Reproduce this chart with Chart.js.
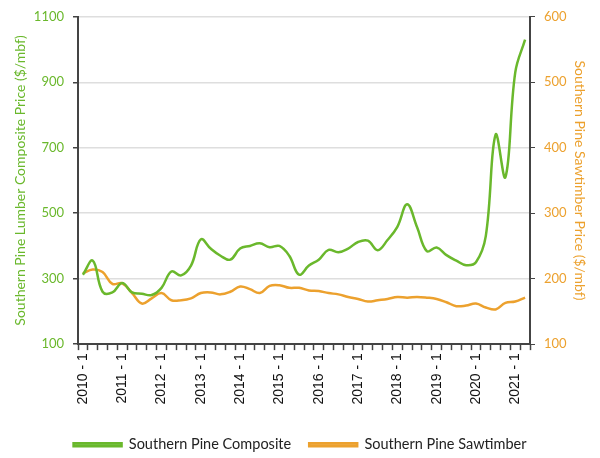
<!DOCTYPE html>
<html>
<head>
<meta charset="utf-8">
<script src="https://cdn.jsdelivr.net/npm/chart.js@4"></script>
<style>
  html, body { margin: 0; padding: 0; background: #fff; }
  #wrap { width: 600px; height: 458px; }
</style>
</head>
<body>
<div id="wrap"><canvas id="lumberChart"></canvas></div>
<script>
// quarterly, 2010-1 .. 2021-2
const years = ['2010', '2011', '2012', '2013', '2014', '2015', '2016', '2017', '2018', '2019', '2020', '2021'];
const quarters = [];
years.forEach(y => { for (let q = 1; q <= 4; q++) quarters.push(y + ' - ' + q); });
quarters.length = 46;

const compositePrice = [
  312, 355, 260, 258, 287, 258, 254, 250, 272, 322, 310, 340,
  420, 392, 370, 358, 392, 400, 408, 396, 400, 370, 312, 340,
  358, 388, 381, 392, 412, 416, 387, 418, 458, 527, 458, 384,
  395, 372, 355, 341, 350, 430, 740, 610, 930, 1030
];
const sawtimberPrice = [
  208, 214, 210, 192, 193, 178, 162, 170, 178, 167, 167, 170,
  178, 179, 176, 180, 188, 184, 178, 189, 190, 186, 186, 182,
  181, 178, 176, 172, 169, 165, 167, 169, 172, 171, 172, 171,
  169, 164, 158, 159, 162, 156, 153, 163, 165, 171
];

const green = '#6ab82c';
const orange = '#eca12e';
const axisColor = '#444';

const lumberCtx = document.getElementById('lumberChart').getContext('2d');
const lumberChart = new Chart(lumberCtx, {
    type: 'line',
    data: {
        labels: quarters,
        datasets: [{
            label: 'Southern Pine Composite',
            data: compositePrice,
            borderColor: green,
            backgroundColor: '#7cc64e',
            borderWidth: 2.5,
            pointRadius: 0,
            tension: 0.4,
            yAxisID: 'y'
        }, {
            label: 'Southern Pine Sawtimber',
            data: sawtimberPrice,
            borderColor: orange,
            backgroundColor: '#f0ad4a',
            borderWidth: 2.5,
            pointRadius: 0,
            tension: 0.4,
            yAxisID: 'y1'
        }]
    },
    options: {
        responsive: true,
        maintainAspectRatio: false,
        animation: false,
        layout: { padding: { top: 8, right: 4, left: 4, bottom: -4 } },
        plugins: {
            tooltip: { enabled: false },
            legend: {
                position: 'bottom',
                labels: {
                    boxWidth: 48,
                    boxHeight: 3,
                    padding: 18,
                    color: '#222',
                    font: { family: 'Lato', size: 14.5 }
                }
            }
        },
        scales: {
            x: {
                offset: true,
                ticks: {
                    autoSkip: false,
                    maxRotation: 90,
                    minRotation: 90,
                    color: '#111',
                    font: { family: 'Liberation Sans', size: 14 },
                    callback: function (val, i) { return i % 4 === 0 ? this.getLabelForValue(val) : ''; }
                },
                grid: { offset: true, drawOnChartArea: false, tickLength: 6, color: axisColor, tickWidth: 1.5 },
                border: { color: axisColor, width: 2 },
                afterFit: scale => { scale.height += 12; }
            },
            y: {
                position: 'left',
                min: 100,
                max: 1100,
                ticks: {
                    stepSize: 200, color: green, font: { family: 'Lato', size: 13 }, padding: 9,
                    callback: v => String(v)
                },
                grid: { color: '#dedede', lineWidth: 1.5, tickColor: axisColor, tickLength: 5 },
                border: { color: axisColor, width: 2 },
                title: {
                    display: true,
                    text: 'Southern Pine Lumber Composite Price ($/mbf)',
                    color: green,
                    font: { family: 'Lato', size: 14 },
                    padding: { top: 8, bottom: 4 }
                },
                afterFit: scale => { scale.width = 74; }
            },
            y1: {
                position: 'right',
                min: 100,
                max: 600,
                ticks: { stepSize: 100, color: orange, font: { family: 'Lato', size: 13 }, padding: 9 },
                grid: { drawOnChartArea: false, tickColor: axisColor, tickLength: 5 },
                border: { color: axisColor, width: 2 },
                title: {
                    display: true,
                    text: 'Southern Pine Sawtimber Price ($/mbf)',
                    color: orange,
                    font: { family: 'Lato', size: 14 },
                    padding: { top: 8, bottom: 4 }
                },
                afterFit: scale => { scale.width = 66; }
            }
        }
    }
});
</script>
</body>
</html>
